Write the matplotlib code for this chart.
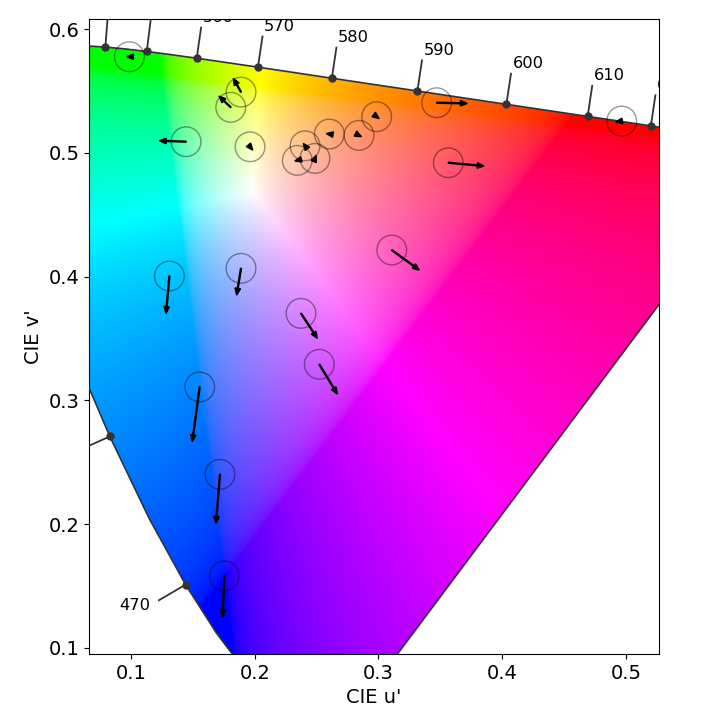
import numpy as np
import matplotlib
matplotlib.use('Agg')
import matplotlib.pyplot as plt
from matplotlib.patches import Polygon, Circle

# CIE 1931 2 degree spectral locus (xy chromaticity)
wavelengths = [380, 385, 390, 395, 400, 405, 410, 415,
               420, 425, 430, 435, 440, 445, 450, 455,
               460, 465, 470, 475, 480, 485, 490, 495,
               500, 505, 510, 515, 520, 525, 530, 535,
               540, 545, 550, 555, 560, 565, 570, 575,
               580, 585, 590, 595, 600, 605, 610, 615,
               620, 625, 630, 635, 640, 645, 650, 655,
               660, 665, 670, 680, 700]
locus_x = [.1741, .1740, .1738, .1736, .1733, .1730, .1726, .1721,
           .1714, .1703, .1689, .1669, .1644, .1611, .1566, .1510,
           .1440, .1355, .1241, .1096, .0913, .0687, .0454, .0235,
           .0082, .0039, .0139, .0389, .0743, .1142, .1547, .1929,
           .2296, .2658, .3016, .3373, .3731, .4087, .4441, .4788,
           .5125, .5448, .5752, .6029, .6270, .6482, .6658, .6801,
           .6915, .7006, .7079, .7140, .7190, .7230, .7260, .7283,
           .7300, .7311, .7320, .7334, .7347]
locus_y = [.0050, .0050, .0049, .0049, .0048, .0048, .0048, .0048,
           .0051, .0058, .0069, .0086, .0109, .0138, .0177, .0227,
           .0297, .0399, .0578, .0868, .1327, .2007, .2950, .4127,
           .5384, .6548, .7502, .8120, .8338, .8262, .8059, .7816,
           .7543, .7243, .6923, .6589, .6245, .5896, .5547, .5202,
           .4866, .4544, .4242, .3965, .3725, .3514, .3340, .3197,
           .3083, .2993, .2920, .2859, .2809, .2770, .2740, .2717,
           .2700, .2689, .2680, .2666, .2653]

label_wavelengths = [420, 440, 450, 460, 470, 480, 490, 500, 510, 520, 530,
                     540, 550, 560, 570, 580, 590, 600, 610, 620, 630, 645, 680]

# sample centres in u'v' and their shifts
centre_u = [0.0986, 0.1889, 0.1806, 0.1445, 0.1962, 0.2603, 0.2843, 0.2986,
            0.2407, 0.2344, 0.2487, 0.3471, 0.3565, 0.4967, 0.1310, 0.1889,
            0.3108, 0.2374, 0.2522, 0.1555, 0.1719, 0.1754]
centre_v = [0.5778, 0.5492, 0.5369, 0.5091, 0.5050, 0.5153, 0.5142, 0.5293,
            0.5058, 0.4940, 0.4956, 0.5406, 0.4921, 0.5258, 0.4005, 0.4067,
            0.4215, 0.3703, 0.3291, 0.3108, 0.2402, 0.1580]
shift_u = [-0.0021, -0.0062, -0.0095, -0.0216, 0.0022, -0.0024, 0.0020, 0.0020,
           -0.0014, -0.0020, 0.0010, 0.0247, 0.0289, -0.0049, -0.0027, -0.0035,
           0.0223, 0.0132, 0.0146, -0.0060, -0.0032, -0.0013]
shift_v = [0.0000, 0.0111, 0.0091, 0.0008, -0.0027, 0.0004, -0.0010, -0.0015,
           0.0019, -0.0005, 0.0025, -0.0005, -0.0027, -0.0008, -0.0302, -0.0216,
           -0.0162, -0.0202, -0.0240, -0.0442, -0.0396, -0.0329]

RADIUS = 0.012
DARK = '#333333'


def xy_to_uv(x, y):
    x = np.asarray(x)
    y = np.asarray(y)
    d = -2 * x + 12 * y + 3
    return 4 * x / d, 9 * y / d


def uv_colours(n=600):
    uu, vv = np.meshgrid(np.linspace(0, 1, n), np.linspace(0, 1, n))
    d = 6 * uu - 16 * vv + 12
    x = 9 * uu / d
    y = 4 * vv / d
    y = np.where(y <= 1e-6, 1e-6, y)
    XYZ = np.stack([x / y, np.ones_like(x), (1 - x - y) / y], axis=-1)
    M = np.array([[3.2406, -1.5372, -0.4986],
                  [-0.9689, 1.8758, 0.0415],
                  [0.0557, -0.2040, 1.0570]])
    rgb = XYZ @ M.T
    rgb = np.where(rgb <= 0.0031308, rgb * 12.92,
                   1.055 * np.abs(rgb) ** (1 / 2.4) - 0.055)
    mx = rgb.max(axis=-1, keepdims=True)
    mx = np.where(mx <= 0, 1, mx)
    return np.clip(np.nan_to_num(rgb / mx), 0, 1)


plt.rcParams['font.size'] = 14

fig = plt.figure(figsize=(7.2, 7.2), dpi=100)
ax = fig.add_axes([89.3 / 720, 66 / 720, 569.7 / 720, 635 / 720])

lu, lv = xy_to_uv(locus_x, locus_y)

poly = Polygon(np.column_stack([lu, lv]), closed=True, facecolor='none', edgecolor='none')
ax.add_patch(poly)
img = ax.imshow(uv_colours(), extent=(0, 1, 0, 1), origin='lower', interpolation='bilinear')
img.set_clip_path(poly)

ax.plot(np.append(lu, lu[0]), np.append(lv, lv[0]), color=DARK, lw=1.2, zorder=3)

# wavelength labels
eu, ev = xy_to_uv(1 / 3, 1 / 3)
for wl in label_wavelengths:
    i = wavelengths.index(wl)
    tu = lu[min(i + 1, len(lu) - 1)] - lu[max(i - 1, 0)]
    tv = lv[min(i + 1, len(lv) - 1)] - lv[max(i - 1, 0)]
    n = np.array([-tv, tu])
    n = n / np.hypot(*n)
    if np.dot(n, [lu[i] - eu, lv[i] - ev]) < 0:
        n = -n
    n = n / 30
    ax.plot([lu[i], lu[i] + n[0] * 0.75], [lv[i], lv[i] + n[1] * 0.75],
            color=DARK, lw=1.3, zorder=3)
    ax.plot(lu[i], lv[i], 'o', color=DARK, ms=5, zorder=4)
    ax.text(lu[i] + n[0], lv[i] + n[1], str(wl), clip_on=True,
            ha='left' if n[0] >= 0 else 'right', va='center', fontsize='small')

for cu, cv, du, dv in zip(centre_u, centre_v, shift_u, shift_v):
    ax.add_patch(Circle((cu, cv), RADIUS, facecolor='none',
                        edgecolor=(0, 0, 0, 0.4), lw=1, zorder=5))
    ax.arrow(cu, cv, du, dv, width=0.0008, head_width=0.0045, head_length=0.0055,
             length_includes_head=True, color='black', zorder=6)

ax.set_xlim(0.0663, 0.5268)
ax.set_ylim(0.0949, 0.6083)
ax.set_xlabel("CIE u'")
ax.set_ylabel("CIE v'")

fig.savefig('out.png', dpi=100)
